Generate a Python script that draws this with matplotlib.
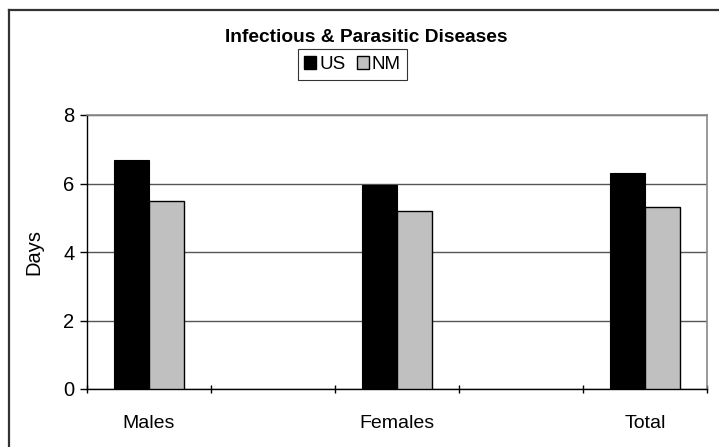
import matplotlib
matplotlib.use("Agg")
import matplotlib.pyplot as plt
from matplotlib.lines import Line2D
from matplotlib.patches import Rectangle
import numpy as np

plt.rcParams['font.family'] = ['Liberation Sans', 'DejaVu Sans']

# data (blank categories act as spacers, as in the original sheet)
categories = ["Males", "", "Females", "", "Total"]
us_days = [6.7, np.nan, 5.95, np.nan, 6.3]
nm_days = [5.5, np.nan, 5.2, np.nan, 5.3]
yticks = [0, 2, 4, 6, 8]

W, H = 719, 447
fig = plt.figure(figsize=(W / 100, H / 100), dpi=100)
fig.patch.set_facecolor('white')

ax = fig.add_axes([87 / W, 1 - 389 / H, (707 - 87) / W, (389 - 115) / H])

x = np.arange(len(categories))
bw = 0.286
ax.bar(x - bw / 2, us_days, width=bw, color='black', edgecolor='black', linewidth=0.8, zorder=3)
ax.bar(x + bw / 2, nm_days, width=bw, color='#c0c0c0', edgecolor='black', linewidth=1.0, zorder=3)

ax.set_xlim(-0.5, len(categories) - 0.5)
ax.set_ylim(0, 8)
ax.set_yticks(yticks)
ax.yaxis.grid(True, color='#555555', linewidth=1)
ax.set_axisbelow(True)

# category labels centred, ticks on the boundaries
ax.set_xticks(np.arange(len(categories) + 1) - 0.5)
ax.set_xticklabels([])
ax.set_xticks(x, minor=True)
ax.set_xticklabels(categories, minor=True)
ax.tick_params(axis='x', which='minor', length=0, pad=19, labelsize=14)
ax.tick_params(axis='x', which='major', length=6, direction='inout', width=1)
ax.tick_params(axis='y', length=5, width=1, labelsize=14.5, pad=4)

for s in ['top', 'right']:
    ax.spines[s].set_color('#888888')
    ax.spines[s].set_linewidth(1.2)
for s in ['left', 'bottom']:
    ax.spines[s].set_color('black')
    ax.spines[s].set_linewidth(1)

ax.set_ylabel("Days", fontsize=14.5, labelpad=14)

fig.text(366 / W, 1 - 37 / H, "Infectious & Parasitic Diseases", ha='center', va='center',
         fontsize=13.8, fontweight='bold')

handles = [Rectangle((0, 0), 1, 1, facecolor='black', edgecolor='black'),
           Rectangle((0, 0), 1, 1, facecolor='#c0c0c0', edgecolor='black')]
leg = fig.legend(handles, ["US", "NM"], loc='center', bbox_to_anchor=(352.5 / W, 1 - 64.5 / H),
                 ncol=2, frameon=True, fancybox=False, fontsize=13.5, handlelength=0.65,
                 handleheight=0.65, handletextpad=0.15, columnspacing=0.6, borderpad=0.35,
                 borderaxespad=0)
leg.get_frame().set_edgecolor('black')
leg.get_frame().set_linewidth(0.8)

# outer chart frame (only top/left edges fall inside the image)
fig.add_artist(Line2D([8.5 / W, 8.5 / W], [0, 1 - 9.5 / H], color='#333333', linewidth=1.6))
fig.add_artist(Line2D([8.5 / W, 1], [1 - 9.5 / H, 1 - 9.5 / H], color='#333333', linewidth=1.6))

fig.savefig("out.png", dpi=100)
